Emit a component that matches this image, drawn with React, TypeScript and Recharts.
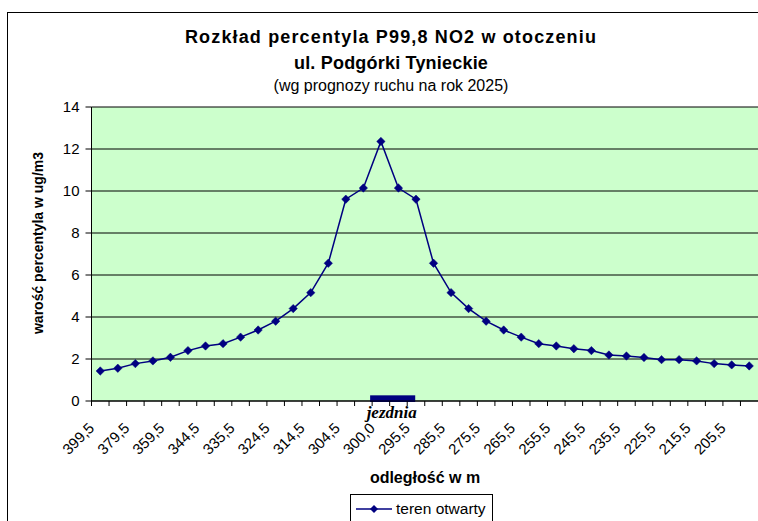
import React from 'react';
import { ComposedChart, Line, XAxis, YAxis, CartesianGrid, ReferenceArea } from 'recharts';

const distanceLabels = [
  '399,5', '', '379,5', '', '359,5', '', '344,5', '', '335,5', '', '324,5', '', '314,5', '',
  '304,5', '', '300,0', '', '295,5', '', '285,5', '', '275,5', '', '265,5', '', '255,5', '',
  '245,5', '', '235,5', '', '225,5', '', '215,5', '', '205,5', '',
];
const percentileValues = [
  1.43, 1.56, 1.78, 1.91, 2.08, 2.4, 2.62, 2.73, 3.04, 3.38, 3.8, 4.4, 5.16, 6.56, 9.61, 10.14,
  12.36, 10.14, 9.61, 6.56, 5.16, 4.4, 3.8, 3.38, 3.04, 2.73, 2.62, 2.49, 2.4, 2.19, 2.14, 2.07,
  1.97, 1.97, 1.91, 1.78, 1.72, 1.67,
];
const yTicks = [0, 2, 4, 6, 8, 10, 12, 14];
const seriesName = 'teren otwarty';
const roadFrom = 16;
const roadTo = 17;
const roadLabel = 'jezdnia';
const titleLines = ['Rozkład percentyla P99,8 NO2 w otoczeniu', 'ul. Podgórki Tynieckie'];
const subtitle = '(wg prognozy ruchu na rok 2025)';
const yTitle = 'warość percentyla w ug/m3';
const xTitle = 'odległość w m';

const data = percentileValues.map((v, i) => ({ pos: i, value: v }));

const SANS = '"Liberation Sans", Arial, sans-serif';
const NAVY = '#000080';

const Diamond = (props: any) => {
  const { cx, cy } = props;
  if (cx == null || cy == null) return null;
  const r = 4.2;
  return (
    <polygon
      points={`${cx},${cy - r} ${cx + r},${cy} ${cx},${cy + r} ${cx - r},${cy}`}
      fill={NAVY}
      stroke={NAVY}
      strokeWidth={0.5}
    />
  );
};

const XTick = (props: any) => {
  const { x, y, payload, index, width } = props;
  const i = payload && payload.index != null ? payload.index : index;
  let half = payload && payload.offset ? payload.offset : 0;
  if (!half && width) half = width / percentileValues.length / 2;
  const label = distanceLabels[i] || '';
  const ax = x - 5;
  const ay = y + 28;
  return (
    <g>
      <line x1={x - half} x2={x - half} y1={y} y2={y + 5} stroke="#000" strokeWidth={1} />
      {label ? (
        <text
          x={ax}
          y={ay}
          textAnchor="end"
          transform={`rotate(-45, ${ax}, ${ay})`}
          fontFamily={SANS}
          fontSize={15}
          fill="#000"
        >
          {label}
        </text>
      ) : null}
    </g>
  );
};

const RoadShape = (props: any) => {
  const { x, y, width, height } = props;
  const rx = x - 2;
  const rw = width + 10;
  return (
    <g>
      <rect x={rx} y={y} width={rw} height={height + 1} fill={NAVY} />
      <text
        x={rx + rw / 2 - 1}
        y={y + height + 17}
        textAnchor="middle"
        fontFamily='"Liberation Serif", "Times New Roman", serif'
        fontStyle="italic"
        fontWeight="bold"
        fontSize={17}
        fill="#000"
      >
        {roadLabel}
      </text>
    </g>
  );
};

export default function App() {
  return (
    <div
      style={{
        position: 'absolute',
        left: 0,
        top: 0,
        width: 758,
        height: 521,
        overflow: 'hidden',
        background: '#fff',
        fontFamily: SANS,
      }}
    >
      <div
        style={{
          position: 'absolute',
          left: 7,
          top: 12,
          width: 900,
          height: 700,
          borderLeft: '1px solid #000',
          borderTop: '1px solid #000',
        }}
      />
      <div style={{ position: 'absolute', left: 0, top: 0 }}>
        <ComposedChart
          width={800}
          height={560}
          data={data}
          margin={{ top: 107, right: 42, bottom: 99, left: 0 }}
        >
          <CartesianGrid vertical={false} stroke="#000" fill="#CCFFCC" fillOpacity={1} />
          <XAxis
            dataKey="pos"
            type="category"
            scale="band"
            interval={0}
            tickLine={false}
            tickSize={0}
            tickMargin={0}
            height={60}
            axisLine={{ stroke: '#000' }}
            tick={<XTick />}
          />
          <YAxis
            type="number"
            domain={[0, 14]}
            ticks={yTicks}
            interval={0}
            width={91.5}
            tickSize={6}
            tickMargin={6}
            axisLine={{ stroke: '#000' }}
            tickLine={{ stroke: '#000' }}
            tick={{ fontSize: 15, fill: '#000', fontFamily: SANS }}
          />
          <ReferenceArea
            x1={roadFrom}
            x2={roadTo}
            y1={0}
            y2={0.27}
            shape={<RoadShape />}
          />
          <Line
            type="linear"
            dataKey="value"
            name={seriesName}
            stroke={NAVY}
            strokeWidth={1.5}
            dot={<Diamond />}
            activeDot={false}
            isAnimationActive={false}
          />
        </ComposedChart>
      </div>
      <div
        style={{
          position: 'absolute',
          left: 91,
          width: 600,
          top: 24,
          textAlign: 'center',
          fontWeight: 'bold',
          fontSize: 18,
          lineHeight: '26px',
          color: '#000',
        }}
      >
        <div style={{ letterSpacing: '1.15px' }}>{titleLines[0]}</div>
        <div style={{ letterSpacing: '0.2px' }}>{titleLines[1]}</div>
        <div style={{ fontWeight: 'normal', fontSize: 16, lineHeight: '20px' }}>{subtitle}</div>
      </div>
      <div
        style={{
          position: 'absolute',
          left: 38 - 150,
          top: 243 - 10,
          width: 300,
          height: 20,
          lineHeight: '20px',
          textAlign: 'center',
          fontWeight: 'bold',
          fontSize: 14,
          transform: 'rotate(-90deg)',
          color: '#000',
          whiteSpace: 'nowrap',
        }}
      >
        {yTitle}
      </div>
      <div
        style={{
          position: 'absolute',
          left: 425 - 100,
          width: 200,
          top: 468,
          textAlign: 'center',
          fontWeight: 'bold',
          fontSize: 16,
          lineHeight: '20px',
          color: '#000',
          whiteSpace: 'pre',
        }}
      >
        {xTitle}
      </div>
      <div
        style={{
          position: 'absolute',
          left: 350,
          top: 494,
          width: 143,
          height: 40,
          border: '1px solid #000',
          background: '#fff',
          boxSizing: 'border-box',
        }}
      >
        <svg width={40} height={24} style={{ position: 'absolute', left: 3, top: 2 }}>
          <line x1={2} x2={38} y1={12} y2={12} stroke={NAVY} strokeWidth={1.5} />
          <polygon points="20,8 24,12 20,16 16,12" fill={NAVY} />
        </svg>
        <div
          style={{
            position: 'absolute',
            left: 45,
            top: 4,
            fontSize: 15.5,
            lineHeight: '20px',
            color: '#000',
            whiteSpace: 'nowrap',
          }}
        >
          {seriesName}
        </div>
      </div>
    </div>
  );
}
